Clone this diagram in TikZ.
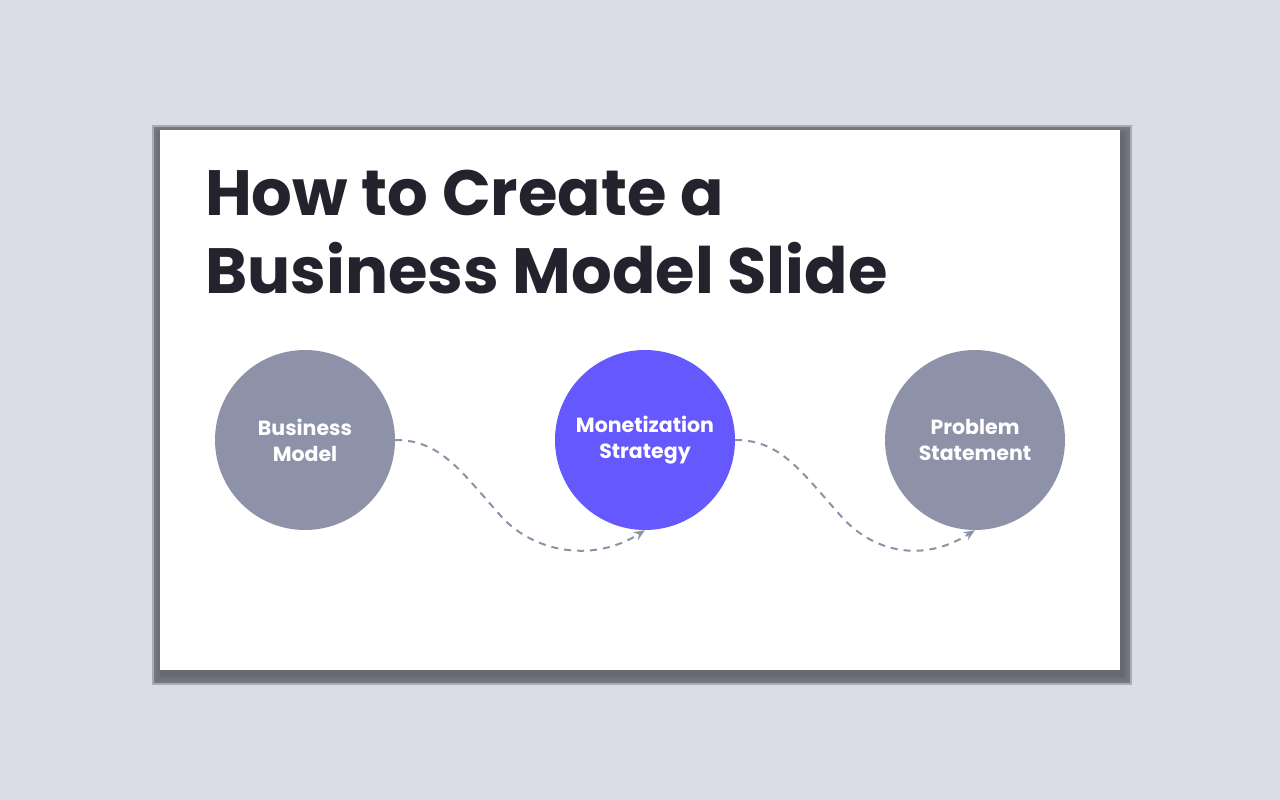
\documentclass[tikz,border=0pt]{standalone}
\usepackage{fontspec}
\setmainfont{Poppins}
\usetikzlibrary{arrows.meta,shadows.blur}
\definecolor{bg}{HTML}{DADDE5}
\definecolor{gr}{HTML}{8D92A9}
\definecolor{pu}{HTML}{6558FC}
\definecolor{ttl}{HTML}{22232D}
\definecolor{ln}{HTML}{8D92A9}
\begin{document}
\begin{tikzpicture}[x=1pt,y=-1pt,
  circ/.style={circle,minimum size=180pt,inner sep=0pt,text=white,align=center,font=\bfseries\fontsize{20.5}{26}\selectfont},
  conn/.style={draw=ln,line width=2pt,dash pattern=on 7pt off 6pt,-{Stealth[length=11pt,width=9pt]}}]
\path[fill=bg] (0,0) rectangle (1280,800);
\useasboundingbox (0,0) rectangle (1280,800);
\foreach \i/\o in {10/6,8/9,6/12,4/16,2/22}{
  \path[fill=black!60!gr,opacity=0.\o*0.5] (160-\i+2,130-\i+5) rectangle (1120+\i+2,670+\i+5);}
\node[fill=white,minimum width=960pt,minimum height=540pt,inner sep=0pt] (card) at (640,400) {};
\node[anchor=north west,text=ttl,align=left,font=\bfseries\fontsize{64}{78}\selectfont,inner sep=0pt] (title) at (205,170) {How to Create a\\Business Model Slide};
\node[circ,fill=gr] (bm) at (305,440) {Business\\Model};
\node[circ,fill=pu] (ms) at (645,440) {Monetization\\Strategy};
\node[circ,fill=gr] (ps) at (975,440) {Problem\\Statement};
\draw[conn] (bm.east) .. controls (440,440) and (460,470) .. (500,515) .. controls (530,550) and (590,565) .. (ms.south);
\draw[conn] (ms.east) .. controls (780,440) and (800,470) .. (840,515) .. controls (870,550) and (920,565) .. (ps.south);
\end{tikzpicture}
\end{document}
